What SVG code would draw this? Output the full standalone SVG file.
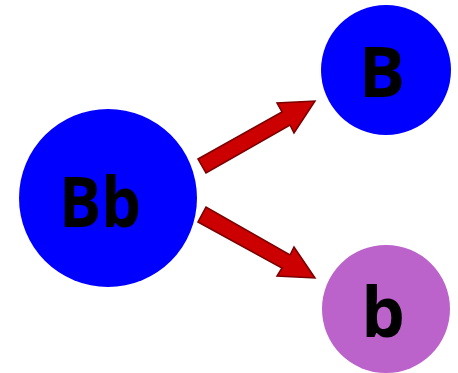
<svg xmlns="http://www.w3.org/2000/svg" width="458" height="373" viewBox="0 0 458 373">
<style>
.lbl{font-family:"Open Sans","Liberation Sans",sans-serif;font-weight:bold;fill:#000;text-anchor:middle}
.arr{fill:#cc0000;stroke:#7a0000;stroke-width:1.5;stroke-linejoin:miter}
</style>
<rect width="458" height="373" fill="#fff"/>
<g id="node-Bb">
<circle cx="108" cy="198" r="89" fill="#0000ff"/>
<text class="lbl" x="100" y="227" font-size="70" textLength="82" lengthAdjust="spacingAndGlyphs">Bb</text>
</g>
<g id="node-B">
<circle cx="386" cy="70" r="65" fill="#0000ff"/>
<text class="lbl" x="382" y="97" font-size="69">B</text>
</g>
<g id="node-b">
<circle cx="386" cy="309" r="64" fill="#bb62cb"/>
<text class="lbl" x="383" y="337" font-size="69">b</text>
</g>
<g id="connectors">
<polygon class="arr" points="198,159 282,112 277,103 315,101 294,133 290,125 206,173"/>
<polygon class="arr" points="198,222 282,268 277,276 315,278 294,247 290,255 206,207"/>
</g>
</svg>
